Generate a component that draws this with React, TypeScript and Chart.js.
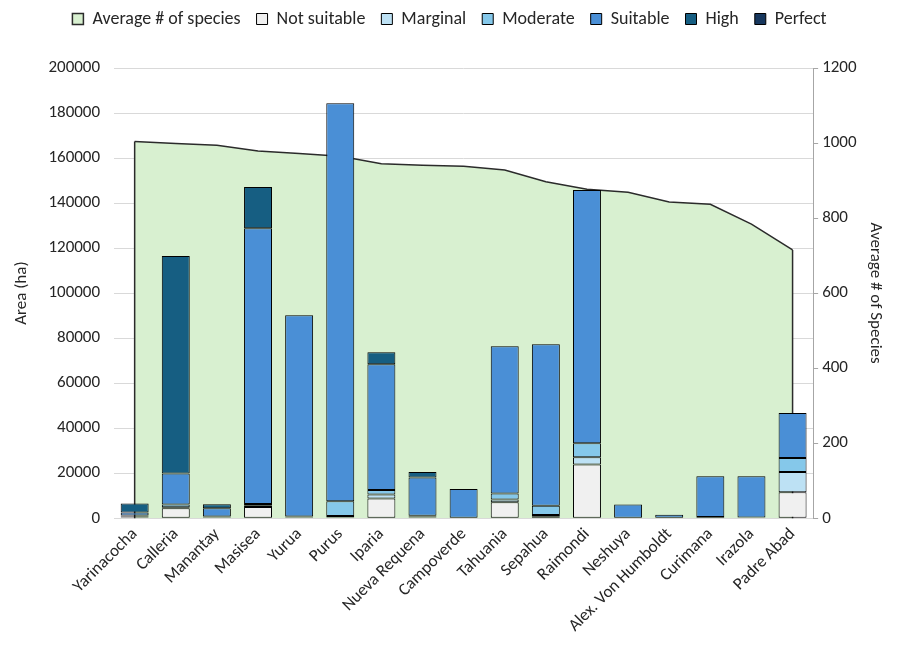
import React, { useEffect, useRef } from "react";
import { Chart, registerables } from "chart.js";

Chart.register(...registerables);

const categories = [
  "Yarinacocha", "Calleria", "Manantay", "Masisea", "Yurua", "Purus", "Iparia",
  "Nueva Requena", "Campoverde", "Tahuania", "Sepahua", "Raimondi", "Neshuya",
  "Alex. Von Humboldt", "Curimana", "Irazola", "Padre Abad",
];

const avgSpecies = [1004, 999, 994, 979, 972, 965, 945, 941, 938, 928, 897, 877, 869, 843, 837, 784, 715];

const notSuitable = [500, 4400, 300, 5000, 300, 500, 8800, 500, 0, 7100, 700, 23900, 0, 0, 600, 300, 11600];
const marginal = [300, 500, 300, 600, 300, 500, 1800, 300, 0, 1200, 700, 3200, 0, 0, 0, 0, 9000];
const moderate = [400, 1200, 200, 700, 200, 6600, 2000, 300, 0, 2700, 4200, 6200, 0, 0, 0, 0, 6200];
const suitable = [1300, 13800, 3600, 122500, 89400, 176700, 55800, 17000, 13000, 65400, 71700, 112500, 6100, 1600, 18100, 18400, 20000];
const high = [4000, 96600, 1800, 18300, 0, 0, 5300, 2500, 0, 0, 0, 0, 0, 0, 0, 0, 0];
const perfect = [0, 0, 0, 0, 0, 0, 0, 0, 0, 0, 0, 0, 0, 0, 0, 0, 0];

const FONT = "Calibri, Carlito, Lato, 'Open Sans', sans-serif";
const TXT = "#262626";

const areaEdges = {
  id: "areaEdges",
  afterDatasetDraw(chart: any, args: any) {
    if (args.index !== 0) return;
    const pts = chart.getDatasetMeta(0).data;
    if (!pts.length) return;
    const y0 = chart.scales.y1.getPixelForValue(0);
    const ctx = chart.ctx;
    ctx.save();
    ctx.strokeStyle = "#2b2b2b";
    ctx.lineWidth = 1.5;
    [pts[0], pts[pts.length - 1]].forEach((p: any) => {
      ctx.beginPath();
      ctx.moveTo(p.x, p.y);
      ctx.lineTo(p.x, y0);
      ctx.stroke();
    });
    ctx.restore();
  },
};

const legendGap = {
  id: "legendGap",
  beforeInit(chart: any) {
    const lg = chart.legend;
    if (!lg) return;
    const origFit = lg.fit;
    lg.fit = function () {
      origFit.call(this);
      this.height += 30;
    };
  },
};

export default function App() {
  const ref = useRef<HTMLCanvasElement | null>(null);

  useEffect(() => {
    if (!ref.current) return;
    const barDs = (label: string, data: number[], color: string) => ({
      type: "bar" as const,
      label,
      data: data.map((v) => (v === 0 ? null : v)),
      backgroundColor: color,
      borderColor: "#000000",
      borderWidth: 1,
      borderSkipped: false,
      yAxisID: "y",
      stack: "s",
      order: 1,
      barPercentage: 0.68,
      categoryPercentage: 1,
    });
    const chart = new Chart(ref.current, {
      type: "bar",
      data: {
        labels: categories,
        datasets: [
          {
            type: "line" as const,
            label: "Average # of species",
            data: avgSpecies,
            yAxisID: "y1",
            fill: "origin",
            backgroundColor: "#D8F0D0",
            borderColor: "#2b2b2b",
            borderWidth: 1.5,
            pointRadius: 0,
            tension: 0,
            order: 10,
          } as any,
          barDs("Not suitable", notSuitable, "#F0F0F0"),
          barDs("Marginal", marginal, "#BDE1F4"),
          barDs("Moderate", moderate, "#85C8EA"),
          barDs("Suitable", suitable, "#4A8FD6"),
          barDs("High", high, "#165E82"),
          barDs("Perfect", perfect, "#17375E"),
        ],
      },
      options: {
        animation: false,
        responsive: false,
        maintainAspectRatio: false,
        layout: { padding: { left: 10, right: 14, top: -6, bottom: 14 } },
        plugins: {
          legend: {
            position: "top",
            labels: {
              boxWidth: 11,
              boxHeight: 11,
              padding: 16,
              color: TXT,
              font: { family: FONT, size: 18 },
              sort: (a: any, b: any) => a.datasetIndex - b.datasetIndex,
            },
          },
          tooltip: { enabled: false },
        },
        scales: {
          x: {
            stacked: true,
            offset: true,
            grid: { display: false, drawTicks: false },
            border: { display: true, color: "#d9d9d9" },
            ticks: {
              minRotation: 45,
              maxRotation: 45,
              color: TXT,
              padding: 6,
              font: { family: FONT, size: 17 },
            },
          },
          y: {
            stacked: true,
            position: "left",
            min: 0,
            max: 200000,
            ticks: {
              stepSize: 20000,
              color: TXT,
              padding: 14,
              font: { family: FONT, size: 17 },
              callback: (v: any) => String(v),
            },
            grid: { color: "#d9d9d9", drawTicks: false },
            border: { display: false },
            title: { display: true, text: "Area (ha)", color: TXT, padding: 2, font: { family: FONT, size: 17 } },
          },
          y1: {
            position: "right",
            min: 0,
            max: 1200,
            ticks: {
              stepSize: 200,
              color: TXT,
              padding: 4,
              font: { family: FONT, size: 17 },
              callback: (v: any) => String(v),
            },
            grid: { drawOnChartArea: false, drawTicks: true, tickLength: 5, color: "#a6a6a6" },
            border: { display: true, color: "#a6a6a6" },
            title: { display: true, text: "Average # of Species", color: TXT, padding: 4, font: { family: FONT, size: 17 } },
          },
        },
      },
      plugins: [areaEdges, legendGap],
    });
    return () => chart.destroy();
  }, []);

  return (
    <div style={{ position: "fixed", left: 0, top: 0, width: 903, height: 656, background: "#fff" }}>
      <canvas ref={ref} width={903} height={656} style={{ width: 903, height: 656 }} />
    </div>
  );
}
